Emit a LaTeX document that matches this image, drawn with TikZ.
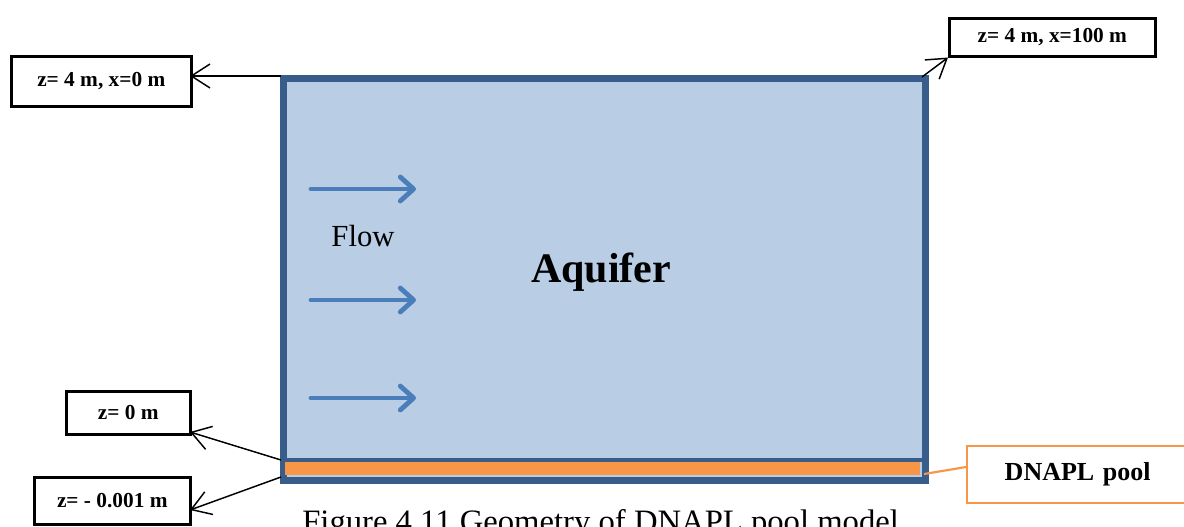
\documentclass[tikz,border=0pt]{standalone}
\usepackage{fontspec}
\setmainfont{Liberation Serif}
\usetikzlibrary{arrows.meta,calc}
\definecolor{aqfill}{HTML}{B9CDE5}
\definecolor{aqline}{HTML}{385D8A}
\definecolor{pool}{HTML}{F79646}
\definecolor{flowblue}{HTML}{4A7EBB}
\tikzset{
  lbl/.style={draw=black,line width=1.9pt,fill=white,font=\fontsize{16}{18}\selectfont\bfseries,inner sep=0pt,anchor=north west},
  callout/.style={draw=black,line width=1.1pt,-{Straight Barb[length=14pt,width=18pt,line width=1.1pt]}},
  flowarrow/.style={draw=flowblue,line width=3.6pt,line cap=round,-{Straight Barb[length=10pt,width=18pt,line width=3.6pt,round]}}
}
\begin{document}
\begin{tikzpicture}[x=0.75pt,y=-0.75pt]
\clip (0,0) rectangle (1184,527);
\fill[white] (0,0) rectangle (1184,527);
% aquifer
\node[draw=aqline,fill=aqfill,line width=3.6pt,minimum width=639*0.75pt,minimum height=399*0.75pt,inner sep=0pt,anchor=north west] (aq) at (282.5,77.5) {};
\node[fill=pool,minimum width=637*0.75pt,minimum height=13*0.75pt,inner sep=0pt,anchor=north west] (pl) at (283,461.5) {};
\draw[aqline,line width=3pt] (282.5,460) -- (921.5,460);
\draw[aqline,line width=3.6pt] (aq.north west) rectangle (aq.south east);
\node[font=\fontsize{31.5}{36}\selectfont\bfseries] (aqt) at (601,272) {Aquifer};
\node[font=\fontsize{23}{26}\selectfont] (flowt) at (363,236) {Flow};
% flow arrows
\coordinate (f1a) at (311,189); \coordinate (f1b) at (416,189);
\coordinate (f2a) at (311,300); \coordinate (f2b) at (416,300);
\coordinate (f3a) at (311,398); \coordinate (f3b) at (416,398);
\draw[flowarrow] (f1a) -- (f1b);
\draw[flowarrow] (f2a) -- (f2b);
\draw[flowarrow] (f3a) -- (f3b);
% labels
\node[lbl,minimum width=180*0.75pt,minimum height=50*0.75pt] (b1) at (10,55) {z= 4 m, x=0 m};
\node[lbl,minimum width=206*0.75pt,minimum height=38*0.75pt] (b2) at (948,17) {z= 4 m, x=100 m};
\node[lbl,minimum width=124*0.75pt,minimum height=43*0.75pt] (b3) at (65,390) {z= 0 m};
\node[lbl,minimum width=156*0.75pt,minimum height=47*0.75pt] (b4) at (33,476) {z= - 0.001 m};
\node[draw=pool,line width=1.6pt,fill=white,font=\fontsize{19.5}{22}\selectfont\bfseries,inner sep=0pt,anchor=north west,minimum width=226*0.75pt,minimum height=57*0.75pt,text width=220*0.75pt,align=left] (dn) at (966,445) {\hspace*{26pt}DNAPL pool};
% connectors
\coordinate (c1s) at (281,76);
\coordinate (c1e) at (190,76);
\draw[callout] (c1s) -- (c1e);
\coordinate (c2s) at (922,77);
\draw[callout] (c2s) -- (b2.south west);
\coordinate (c3s) at (281,460);
\coordinate (c3e) at (190,432);
\draw[callout] (c3s) -- (c3e);
\coordinate (c4s) at (281,477);
\coordinate (c4e) at (190,510);
\draw[callout] (c4s) -- (c4e);
\coordinate (c5s) at (924,474);
\coordinate (c5e) at (966,467);
\draw[pool,line width=1.6pt] (c5s) -- (c5e);
% caption (cut off at bottom, as in the reference)
\node[font=\fontsize{24.5}{28}\selectfont,anchor=base west,inner sep=0pt] (cap) at (302,532) {Figure 4.11 Geometry of DNAPL pool model};
\end{tikzpicture}
\end{document}
